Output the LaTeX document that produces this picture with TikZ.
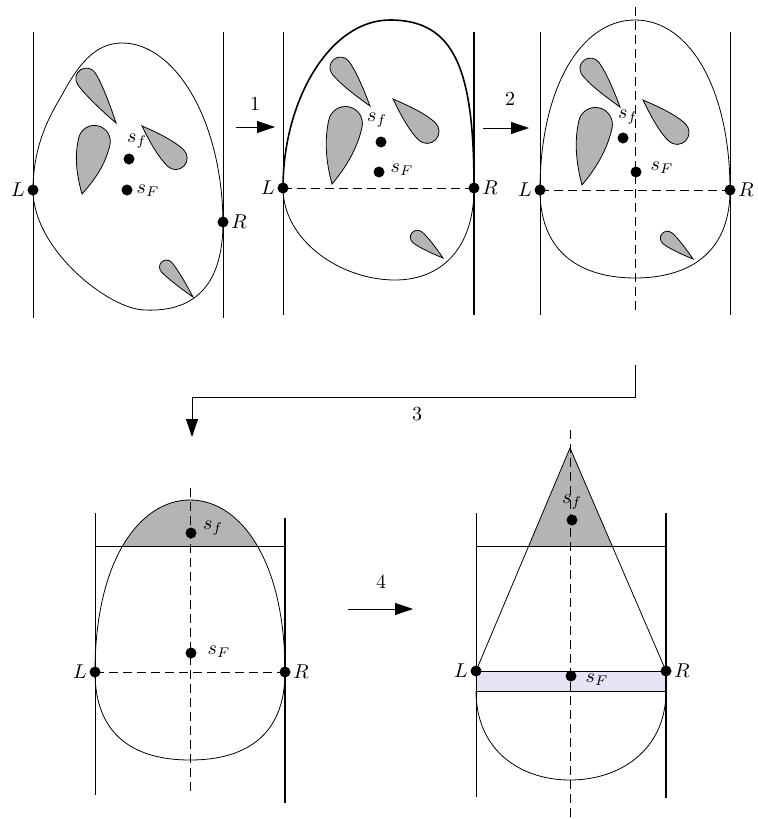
\documentclass[tikz,border=0pt]{standalone}
\usepackage{amsmath, amssymb}
\usepackage{xcolor}
\usepackage{tikz}
\usetikzlibrary{arrows.meta, positioning}

\definecolor{flecken}{RGB}{180,180,180}
\definecolor{streifen}{RGB}{228,228,244}

\tikzset{
  punkt/.style={circle, fill, inner sep=0pt, minimum size=5.5pt},
  gestrichelt/.style={dash pattern=on 4.5pt off 2.5pt},
  pfeil/.style={-{Triangle[length=9pt,width=6pt]}},
  fleck/.style={draw, fill=flecken, thin},
}

% Tropfen: Spitze (#1,#2), Winkel #3, Laenge #4, Radius #5, Spitzenbreite #6
\newcommand{\tropfen}[6]{%
  \begin{scope}[shift={(#1,#2)}, rotate=#3]
    \draw[fleck] (0,0) .. controls ({0.4*(#4-#5)},#6) and ({(#4-#5)-#5},#5) .. ({#4-#5},#5)
      .. controls ({#4-#5+0.552*#5},#5) and (#4,{0.552*#5}) .. (#4,0)
      .. controls (#4,{-0.552*#5}) and ({#4-#5+0.552*#5},-#5) .. ({#4-#5},-#5)
      .. controls ({(#4-#5)-#5},-#5) and ({0.4*(#4-#5)},-#6) .. cycle;
  \end{scope}}

% Flecken aus Bild 2 (in Bild 3 verschoben)
\newcommand{\fleckenZwei}{%
  \tropfen{370}{106}{127.6}{59}{10.5}{6}
  \tropfen{332}{184}{77.5}{79}{17}{13}
  \tropfen{393}{99}{-43.6}{59}{12}{7}
  \tropfen{443}{258}{141}{40}{7}{4}
}

\begin{document}
\begin{tikzpicture}[x=0.5pt, y=-0.5pt, thin]
  \useasboundingbox (0,0) rectangle (757,819);
  % Punkte
  \coordinate (L1) at (33,190);  \coordinate (R1) at (223,222);
  \coordinate (sf1) at (129,159); \coordinate (sF1) at (127,190);
  \coordinate (L2) at (283,188); \coordinate (R2) at (474,188);
  \coordinate (sf2) at (381,142); \coordinate (sF2) at (379,172);
  \coordinate (L3) at (540,190); \coordinate (R3) at (730,190);
  \coordinate (sf3) at (623,138); \coordinate (sF3) at (636,172);
  \coordinate (L4) at (95,672);  \coordinate (R4) at (285,672);
  \coordinate (sf4) at (191,533); \coordinate (sF4) at (191,653);
  \coordinate (L5) at (476,671); \coordinate (R5) at (666,671);
  \coordinate (sf5) at (572,520); \coordinate (sF5) at (571,676);
  \coordinate (S5) at (570,448);

  % Bild 1
  \draw (33,32) -- (33,318);
  \draw (223,32) -- (223,318);
  \draw (L1) .. controls (33,145) and (50,115) .. (62,95)
    .. controls (78,65) and (95,43) .. (122,43)
    .. controls (175,43) and (222,120) .. (R1)
    .. controls (223,290) and (190,312) .. (145,310)
    .. controls (110,310) and (33,250) .. (L1);
  \tropfen{116}{123}{123.7}{64}{10.5}{6}
  \tropfen{82}{194}{76.8}{70}{16}{12}
  \tropfen{142}{126}{-43.6}{58}{11.5}{7}
  \tropfen{193}{297}{131.5}{47}{7}{4}

  % Bild 2
  \draw (283,32) -- (283,315);
  \draw[thick] (474,32) -- (474,315);
  \draw[gestrichelt] (L2) -- (R2);
  \draw[thick] (L2) .. controls (283,100) and (330,20) .. (390,20)
    .. controls (455,20) and (474,70) .. (R2);
  \draw (R2) .. controls (474,250) and (440,280) .. (395,280)
    .. controls (340,280) and (283,240) .. (L2);
  \fleckenZwei

  % Bild 3
  \draw (540,32) -- (540,315);
  \draw (730,32) -- (730,315);
  \draw[gestrichelt] (635,7) -- (635,315);
  \draw[gestrichelt] (L3) -- (R3);
  \draw (L3) .. controls (540,90) and (580,20) .. (635,20)
    .. controls (690,20) and (730,90) .. (R3)
    .. controls (730,260) and (680,278) .. (635,278)
    .. controls (590,278) and (540,260) .. (L3);
  \begin{scope}[shift={(250,1)}]
    \fleckenZwei
  \end{scope}

  % Bild 4
  \begin{scope}
    \clip (80,480) rectangle (300,546);
    \fill[flecken] (L4) .. controls (95,560) and (140,500) .. (190,500)
      .. controls (240,500) and (285,560) .. (R4) -- cycle;
  \end{scope}
  \draw (95,513) -- (95,795);
  \draw[thick] (285,518) -- (285,803);
  \draw (95,546) -- (285,546);
  \draw[gestrichelt] (190,488) -- (190,795);
  \draw[gestrichelt] (L4) -- (R4);
  \draw (L4) .. controls (95,560) and (140,500) .. (190,500)
    .. controls (240,500) and (285,560) .. (R4)
    .. controls (285,740) and (240,760) .. (190,760)
    .. controls (140,760) and (95,740) .. (L4);

  % Bild 5
  \fill[flecken] (S5) -- (528.7,546) -- (612.2,546) -- cycle;
  \filldraw[fill=streifen] (L5) rectangle (666,691);
  \draw (476,513) -- (476,797);
  \draw[thick] (666,513) -- (666,798);
  \draw (476,546) -- (666,546);
  \draw[gestrichelt] (570,430) -- (570,818);
  \draw (L5) -- (S5) -- (R5);
  \draw (476,691) .. controls (476,750) and (520,780) .. (570,780)
    .. controls (620,780) and (666,750) .. (666,691);

  % Pfeile
  \coordinate (a1) at (236,127); \coordinate (b1) at (275,127);
  \coordinate (a2) at (483,128); \coordinate (b2) at (529,128);
  \coordinate (a3) at (635,365); \coordinate (b3) at (192,437);
  \coordinate (a4) at (348,609); \coordinate (b4) at (413,609);
  \draw[pfeil] (a1) -- (b1);
  \draw[pfeil] (a2) -- (b2);
  \draw[pfeil] (a3) -- (635,397) -| (b3);
  \draw[pfeil] (a4) -- (b4);
  \node at (255,104) {1};
  \node at (510,99) {2};
  \node at (417,414) {3};
  \node at (381,582) {4};

  % Punkte und Beschriftung
  \foreach \i in {1,...,5}{
    \node[punkt, label={[inner sep=1pt]left:$L$}] at (L\i) {};
    \node[punkt, label={[inner sep=1pt]right:$R$}] at (R\i) {};
    \node[punkt] at (sf\i) {};
    \node[punkt] at (sF\i) {};
  }
  \node at (137,141) {$s_f$};  \node at (148,191) {$s_F$};
  \node at (377,120) {$s_f$};  \node at (402,170) {$s_F$};
  \node at (628,117) {$s_f$};  \node at (662,168) {$s_F$};
  \node at (213,528) {$s_f$};  \node at (219,652) {$s_F$};
  \node at (572,502) {$s_f$};  \node at (597,680) {$s_F$};
\end{tikzpicture}
\end{document}
